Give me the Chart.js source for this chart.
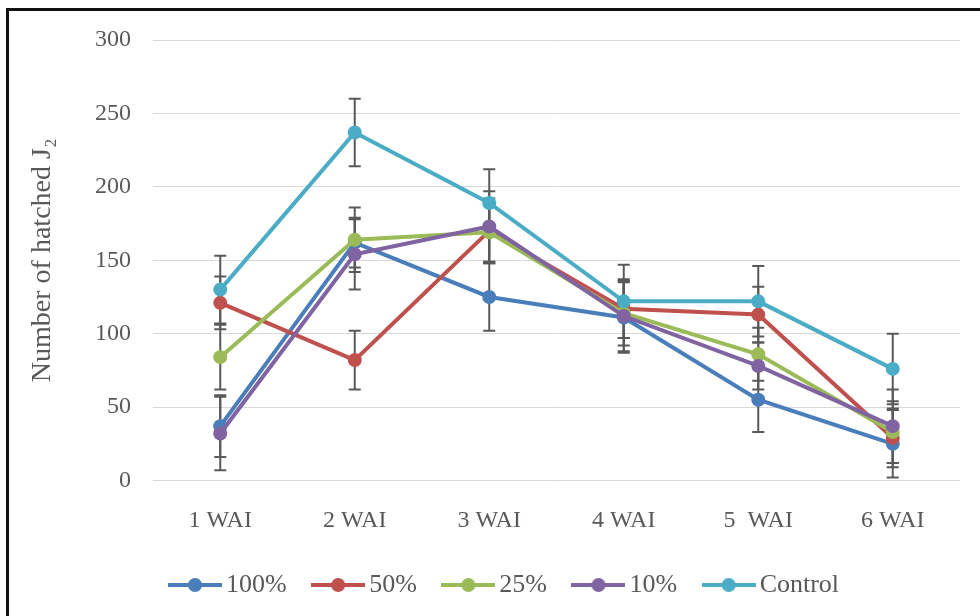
<!DOCTYPE html>
<html>
<head>
<meta charset="utf-8">
<script src="https://cdn.jsdelivr.net/npm/chart.js@4"></script>
<style>
  html, body { margin: 0; padding: 0; background: #fff; }
  #wrap { position: relative; width: 980px; height: 616px; overflow: hidden; }
  #frame { position: absolute; left: 6px; top: 8px; width: 1000px; height: 700px;
           border-left: 3px solid #111; border-top: 3px solid #111; }
  canvas { position: absolute; left: 0; top: 0; }
</style>
</head>
<body>
<div id="wrap">
  <div id="frame"></div>
  <canvas id="chart" width="980" height="616"></canvas>
</div>
<script>
'use strict';

const weeks = ['1 WAI', '2 WAI', '3 WAI', '4 WAI', '5  WAI', '6 WAI'];
const yTicks = [0, 50, 100, 150, 200, 250, 300];

const c100 = [37, 162, 125, 111, 55, 25];
const c50 = [121, 82, 170, 117, 113, 29];
const c25 = [84, 164, 169, 114, 86, 33];
const c10 = [32, 154, 173, 112, 78, 37];
const control = [130, 237, 189, 122, 122, 76];

const err100 = [21, 17, 23, 24, 22, 23];
const err50 = [18, 20, 22, 20, 19, 20];
const err25 = [22, 22, 20, 22, 18, 21];
const err10 = [25, 24, 24, 24, 16, 25];
const errControl = [23, 23, 23, 25, 24, 24];

const grey = '#595959';
const serif = '"Liberation Serif", "Times New Roman", serif';

// little line-with-dot swatch for the legend
function swatch(color) {
  const c = document.createElement('canvas');
  c.width = 54; c.height = 16;
  const ctx = c.getContext('2d');
  ctx.strokeStyle = color;
  ctx.lineWidth = 4;
  ctx.beginPath(); ctx.moveTo(0, 8); ctx.lineTo(54, 8); ctx.stroke();
  ctx.fillStyle = color;
  ctx.beginPath(); ctx.arc(27, 8, 7, 0, Math.PI * 2); ctx.fill();
  return c;
}

function series(label, data, errs, color, order) {
  return {
    label: label,
    data: data,
    errs: errs,
    order: order,
    borderColor: color,
    backgroundColor: color,
    borderWidth: 4,
    pointRadius: 7,
    pointBorderWidth: 0,
    pointBackgroundColor: color,
    tension: 0
  };
}

// error bars drawn behind the lines
const errorBars = {
  id: 'errorBars',
  beforeDatasetsDraw(chart) {
    const ctx = chart.ctx;
    const y = chart.scales.y;
    const x = chart.scales.x;
    ctx.save();
    ctx.strokeStyle = grey;
    ctx.lineWidth = 2;
    chart.data.datasets.forEach((ds) => {
      ds.data.forEach((v, i) => {
        const px = x.getPixelForValue(i);
        const top = y.getPixelForValue(v + ds.errs[i]);
        const bot = y.getPixelForValue(v - ds.errs[i]);
        ctx.beginPath();
        ctx.moveTo(px, top); ctx.lineTo(px, bot);
        ctx.moveTo(px - 6, top); ctx.lineTo(px + 6, top);
        ctx.moveTo(px - 6, bot); ctx.lineTo(px + 6, bot);
        ctx.stroke();
      });
    });
    ctx.restore();
  }
};

// the legend sits left of centre in the original
const legendPlace = {
  id: 'legendPlace',
  afterLayout(chart) {
    const l = chart.legend;
    const w = l.right - l.left;
    const h = l.bottom - l.top;
    l.left = 143.5;
    l.right = l.left + w;
    l.top = 538.5;
    l.bottom = l.top + h;
  }
};

new Chart(document.getElementById('chart'), {
  type: 'line',
  data: {
    labels: weeks,
    datasets: [
      series('100%', c100, err100, '#4A7EBB', 5),
      series('50%', c50, err50, '#C0504D', 4),
      series('25%', c25, err25, '#9BBB59', 3),
      series('10%', c10, err10, '#8064A2', 2),
      series('Control', control, errControl, '#4BACC6', 1)
    ]
  },
  options: {
    responsive: false,
    animation: false,
    layout: { padding: { top: 40, right: 20, bottom: 6, left: 0 } },
    plugins: {
      tooltip: { enabled: false },
      legend: {
        position: 'bottom',
        align: 'start',
        reverse: true,
        labels: {
          usePointStyle: true,
          pointStyleWidth: 36,
          padding: 33.5,
          color: grey,
          font: { family: serif, size: 26 },
          generateLabels(chart) {
            const items = Chart.defaults.plugins.legend.labels.generateLabels(chart);
            items.forEach((it) => {
              it.pointStyle = swatch(chart.data.datasets[it.datasetIndex].borderColor);
            });
            return items;
          }
        }
      }
    },
    scales: {
      x: {
        offset: true,
        grid: { display: false, offset: true },
        border: { display: false },
        ticks: { color: grey, padding: 18, font: { family: serif, size: 24 } },
        afterFit: (s) => { s.height = 60; }
      },
      y: {
        min: 0,
        max: 300,
        afterBuildTicks: (s) => { s.ticks = yTicks.map((v) => ({ value: v })); },
        grid: { color: '#D9D9D9', lineWidth: 1, drawTicks: false },
        border: { display: false },
        ticks: { color: grey, padding: 22, font: { family: serif, size: 24 } },
        title: {
          display: true,
          text: 'Number of hatched J₂',
          color: grey,
          font: { family: serif, size: 28 },
          padding: { top: 26, bottom: 0 }
        },
        afterFit: (s) => { s.width = 153; }
      }
    }
  },
  plugins: [errorBars, legendPlace]
});
</script>
</body>
</html>
